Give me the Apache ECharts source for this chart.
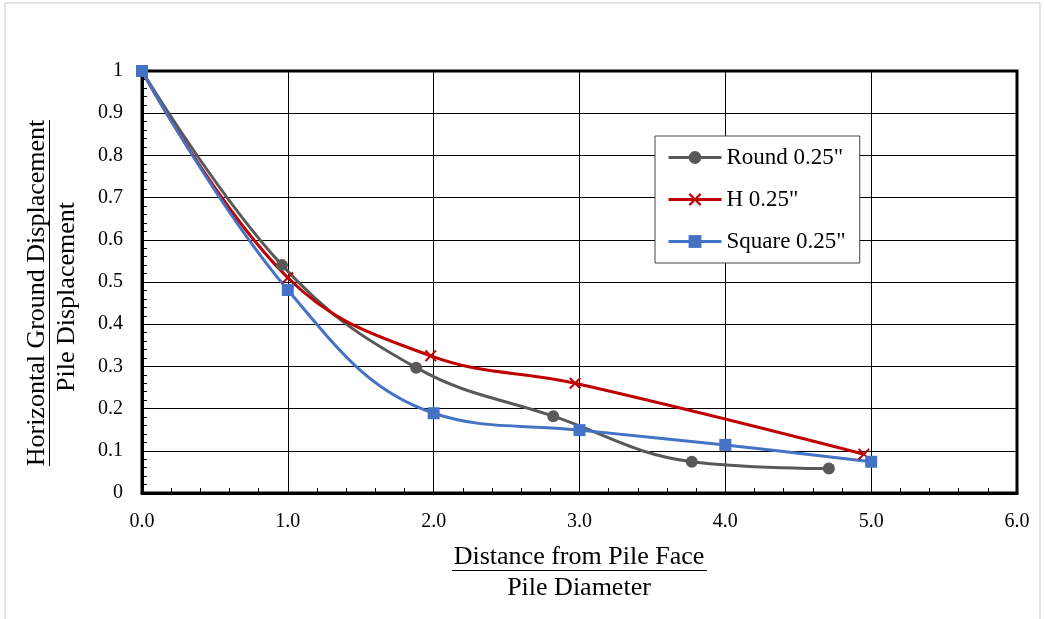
<!DOCTYPE html>
<html>
<head>
<meta charset="utf-8">
<script src="https://cdn.jsdelivr.net/npm/echarts@6/dist/echarts.min.js"></script>
<style>
html,body{margin:0;padding:0;background:#fff;}
#chart{width:1045px;height:619px;}
</style>
</head>
<body>
<div id="chart"></div>
<script>
const seriesNames = ['Round 0.25"', 'H 0.25"', 'Square 0.25"'];
const roundX = [0, 0.96, 1.88, 2.82, 3.77, 4.71];
const roundY = [1, 0.54, 0.297, 0.182, 0.074, 0.058];
const hX = [0, 1.0, 1.98, 2.97, 4.95];
const hY = [1, 0.51, 0.325, 0.26, 0.092];
const squareX = [0, 1.0, 2.0, 3.0, 4.0, 5.0];
const squareY = [1, 0.481, 0.189, 0.149, 0.114, 0.074];
const xTitle = 'Distance from Pile Face';
const xTitle2 = 'Pile Diameter';
const yTitle = 'Horizontal Ground Displacement';
const yTitle2 = 'Pile Displacement';

const FONT = '"Liberation Serif", "Times New Roman", serif';
const xMark = 'path://M0,1.2 L1.2,0 L5,3.8 L8.8,0 L10,1.2 L6.2,5 L10,8.8 L8.8,10 L5,6.2 L1.2,10 L0,8.8 L3.8,5 Z';

function pairs(xs, ys){ return xs.map((x,i)=>[x, ys[i]]); }

const chart = echarts.init(document.getElementById('chart'), null, {renderer:'canvas'});
chart.setOption({
  animation:false,
  backgroundColor:'#fff',
  grid:{left:142, right:28, top:71, bottom:126, show:true, borderColor:'#000', borderWidth:3, backgroundColor:'transparent'},
  xAxis:{
    type:'value', min:0, max:6, interval:1,
    axisLine:{lineStyle:{color:'#000', width:3}},
    axisTick:{show:true, inside:true, length:6, lineStyle:{color:'#000'}},
    minorTick:{show:true, splitNumber:5, length:5, lineStyle:{color:'#000'}},
    splitLine:{show:true, lineStyle:{color:'#000', width:1}},
    axisLabel:{fontFamily:FONT, fontSize:20, color:'#000', margin:19, formatter:v=>v.toFixed(1)}
  },
  yAxis:{
    type:'value', min:0, max:1, interval:0.1,
    axisLine:{lineStyle:{color:'#000', width:3}},
    axisTick:{show:true, inside:true, length:6, lineStyle:{color:'#000'}},
    minorTick:{show:true, splitNumber:5, length:5, lineStyle:{color:'#000'}},
    splitLine:{show:true, lineStyle:{color:'#000', width:1}},
    axisLabel:{fontFamily:FONT, fontSize:20, color:'#000', margin:19, formatter:v=>String(Math.round(v*10)/10)}
  },
  legend:{
    show:true, orient:'vertical', left:655, top:136,
    padding:[10,14,10,12], itemGap:19, itemWidth:53, itemHeight:16,
    borderColor:'#444', borderWidth:1, backgroundColor:'#fff',
    lineStyle:{width:3},
    textStyle:{fontFamily:FONT, fontSize:23, color:'#000', lineHeight:22},
    data:seriesNames
  },
  series:[
    {name:seriesNames[0], type:'line', smooth:0.4, data:pairs(roundX, roundY),
     symbol:'circle', symbolSize:12, itemStyle:{color:'#595959'}, lineStyle:{color:'#595959', width:3}},
    {name:seriesNames[1], type:'line', smooth:0.4, data:pairs(hX, hY),
     symbol:xMark, symbolSize:12, itemStyle:{color:'#c00000'}, lineStyle:{color:'#c00000', width:3}},
    {name:seriesNames[2], type:'line', smooth:0.4, data:pairs(squareX, squareY),
     symbol:'rect', symbolSize:12, itemStyle:{color:'#4472c4'}, lineStyle:{color:'#4472c4', width:3}}
  ],
  graphic:[
    {type:'rect', shape:{x:5, y:3, width:1035, height:630}, style:{fill:'none', stroke:'#c8c8c8', lineWidth:1}, z:-1, silent:true},
    {type:'text', x:579, y:557, style:{text:xTitle, font:'26px '+FONT, fill:'#000', align:'center', verticalAlign:'middle'}},
    {type:'rect', shape:{x:452, y:570, width:255, height:1}, style:{fill:'#000'}},
    {type:'text', x:579, y:588, style:{text:xTitle2, font:'26px '+FONT, fill:'#000', align:'center', verticalAlign:'middle'}},
    {type:'text', x:37, y:293, rotation:Math.PI/2, style:{text:yTitle, font:'26px '+FONT, fill:'#000', align:'center', verticalAlign:'middle'}},
    {type:'rect', shape:{x:49, y:120, width:1, height:346}, style:{fill:'#000'}},
    {type:'text', x:67, y:297, rotation:Math.PI/2, style:{text:yTitle2, font:'26px '+FONT, fill:'#000', align:'center', verticalAlign:'middle'}}
  ]
});
</script>
</body>
</html>
